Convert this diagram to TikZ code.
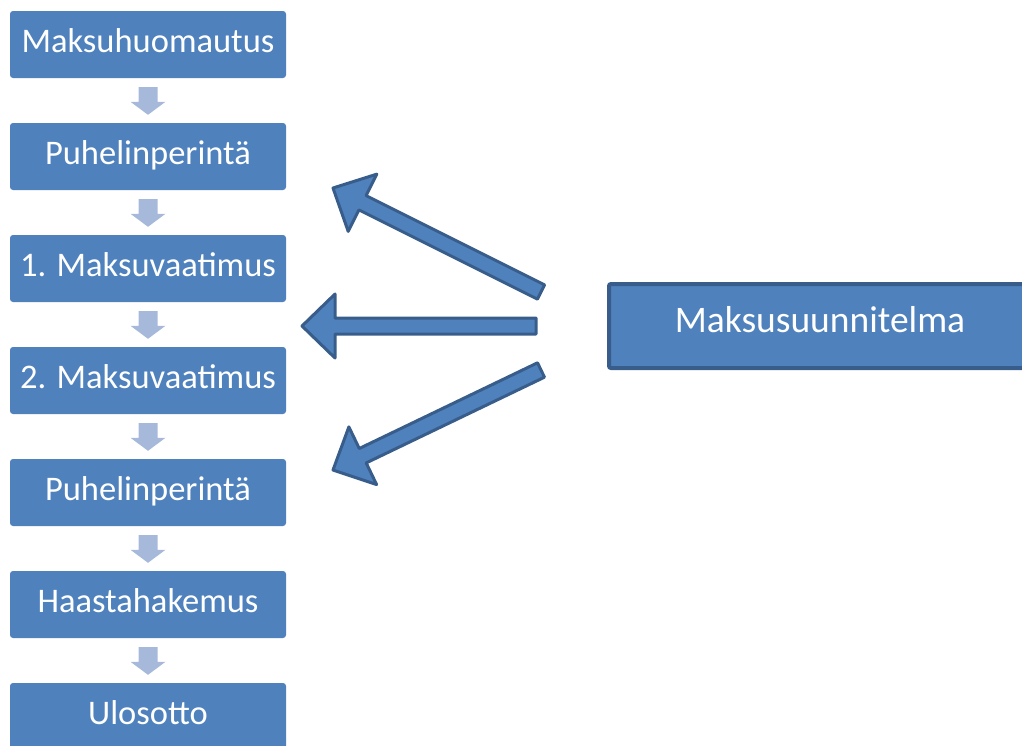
\documentclass[tikz,border=0pt]{standalone}
\usepackage{fontspec}
\setmainfont{Carlito}
\usetikzlibrary{positioning,calc}

\definecolor{boxblue}{RGB}{79,129,189}
\definecolor{edgeblue}{RGB}{56,93,138}
\definecolor{paleblue}{RGB}{167,185,219}

% block arrow: style, tail, tip, half shaft, half head, head length
\newcommand{\blockarrow}[6]{%
  \coordinate (ba-h) at ($(#3)!#6!(#2)$);
  \path[#1] ($(#2)!#4!90:(#3)$) -- ($(ba-h)!#4!90:(#3)$) -- ($(ba-h)!#5!90:(#3)$)
    -- (#3) -- ($(ba-h)!#5!-90:(#3)$) -- ($(ba-h)!#4!-90:(#3)$) -- ($(#2)!#4!-90:(#3)$) -- cycle;
}

\tikzset{
  stepbox/.style={fill=boxblue, text=white, rounded corners=3pt, minimum width=276pt,
    minimum height=67pt, inner sep=0pt, text height=24pt, text depth=8pt,
    font=\fontsize{34.5}{41}\selectfont},
  planbox/.style={stepbox, draw=edgeblue, line width=4pt, rounded corners=2pt,
    minimum width=422pt, minimum height=84pt, text height=26pt, text depth=13pt,
    font=\fontsize{37.5}{45}\selectfont},
  smallarrow/.style={fill=paleblue},
  bigarrow/.style={fill=boxblue, draw=edgeblue, line width=3pt, line join=round}
}

\begin{document}
\begin{tikzpicture}[x=1pt,y=-1pt]
  \path[use as bounding box, clip] (0,0) rectangle (1022,745);

  \node[stepbox] (b1) at (148,44.5) {Maksuhuomautus};
  \node[stepbox] (b2) at (148,156.5) {Puhelinperintä};
  \node[stepbox] (b3) at (148,268.5) {1. Maksuvaatimus};
  \node[stepbox] (b4) at (148,380.5) {2. Maksuvaatimus};
  \node[stepbox] (b5) at (148,492.5) {Puhelinperintä};
  \node[stepbox] (b6) at (148,604.5) {Haastahakemus};
  \node[stepbox] (b7) at (148,716.5) {Ulosotto};

  \node[planbox] (plan) at (820,326) {Maksusuunnitelma};

  % arrows down the column
  \foreach \i/\j in {1/2,2/3,3/4,4/5,5/6,6/7} {
    \coordinate (t\i) at ([yshift=-9pt]b\i.south);
    \coordinate (h\i) at ([yshift=8pt]b\j.north);
    \blockarrow{smallarrow}{t\i}{h\i}{9.5pt}{17.5pt}{13pt}
  }

  % arrows from the plan
  \coordinate (q1) at ([xshift=-66pt,yshift=34pt]plan.west);
  \coordinate (q2) at ([xshift=-71pt]plan.west);
  \coordinate (q3) at ([xshift=-66pt,yshift=-44pt]plan.west);
  \coordinate (p1) at (333,188);
  \coordinate (p2) at (302,326);
  \coordinate (p3) at (333,470);
  \blockarrow{bigarrow}{q1}{p1}{8pt}{32pt}{33pt}
  \blockarrow{bigarrow}{q2}{p2}{8pt}{32pt}{33pt}
  \blockarrow{bigarrow}{q3}{p3}{8pt}{32pt}{33pt}
\end{tikzpicture}
\end{document}
